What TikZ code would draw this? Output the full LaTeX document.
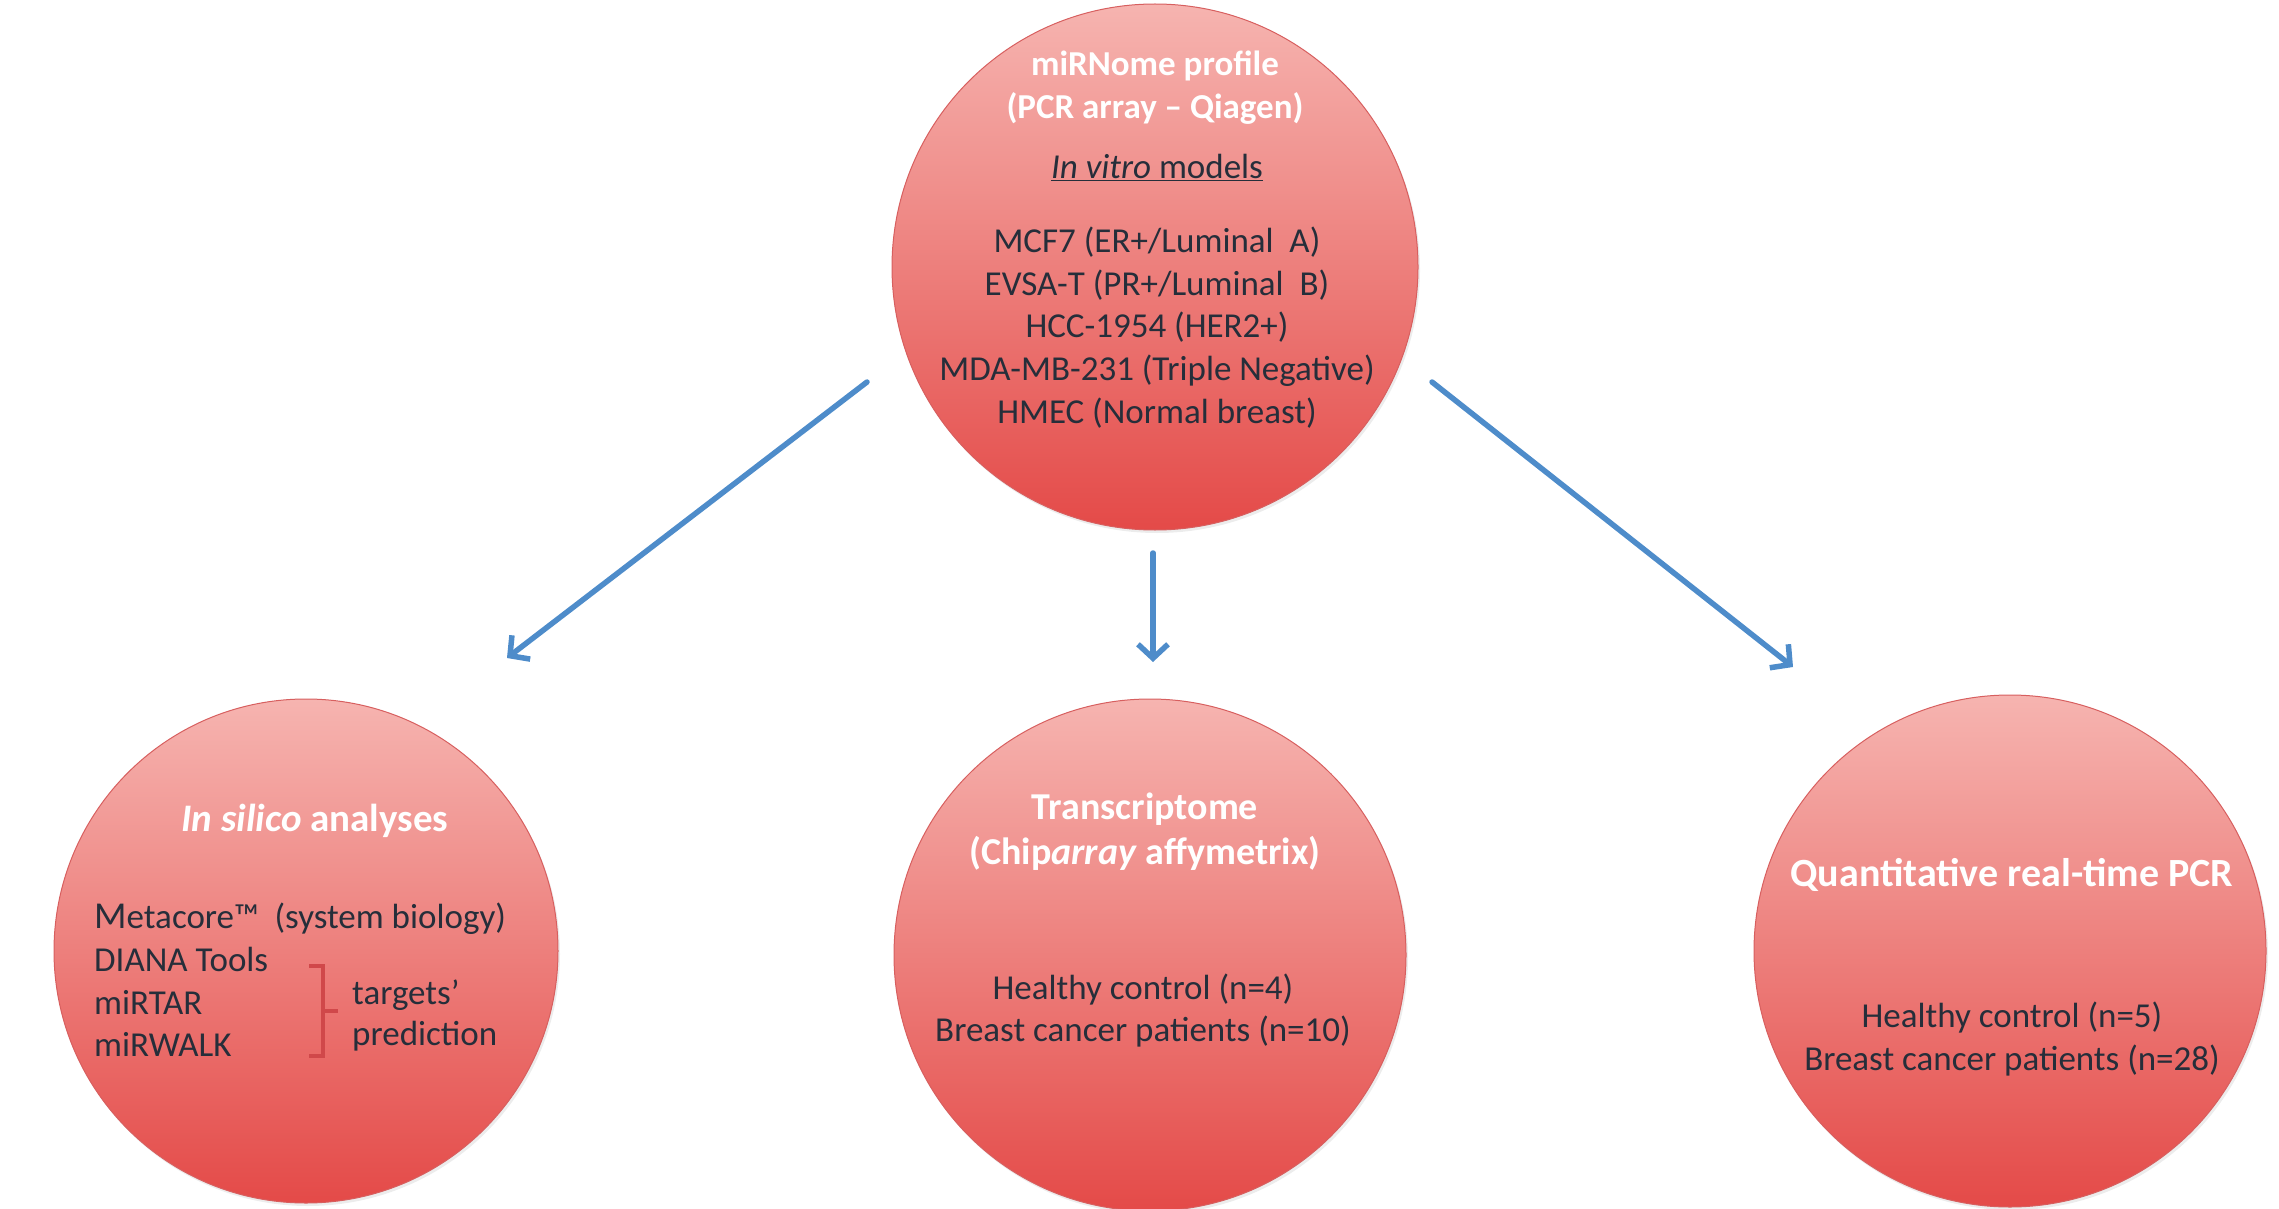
\documentclass[tikz,border=0pt]{standalone}
\usepackage{fontspec}
\setmainfont{Carlito}
\usetikzlibrary{arrows.meta,shadows}
\definecolor{cTop}{RGB}{246,180,176}
\definecolor{cBot}{RGB}{228,74,72}
\definecolor{cEdge}{RGB}{215,95,95}
\definecolor{txtDark}{RGB}{38,46,58}
\definecolor{arrBlue}{RGB}{78,140,202}
\definecolor{braceRed}{RGB}{208,72,74}
\tikzset{
  bubble/.style={circle, inner sep=0pt, top color=cTop, bottom color=cBot,
    draw=cEdge, line width=1pt,
    drop shadow={opacity=0.15, shadow xshift=2pt, shadow yshift=-3pt}},
  ttl/.style={text=white, font=\fontsize{35}{40}\selectfont\bfseries, inner sep=0pt,
    text height=25pt, text depth=8pt},
  bigttl/.style={ttl, font=\fontsize{39}{44}\selectfont\bfseries},
  body/.style={text=txtDark, font=\fontsize{35}{40}\selectfont, inner sep=0pt,
    text height=25pt, text depth=8pt},
  flow/.style={draw=arrBlue, line width=5.5pt, line cap=round,
    -{Straight Barb[length=14pt,width=30pt,line width=5.5pt]}},
  bracket/.style={draw=braceRed, line width=3.5pt}
}
\begin{document}
\begin{tikzpicture}[x=1pt,y=-1pt]
\useasboundingbox (0,0) rectangle (2279,1209);
% circles
\node[bubble, minimum size=526pt] (top) at (1155,267) {};
\node[bubble, minimum size=504pt] (left) at (306,951) {};
\node[bubble, minimum size=512pt] (mid) at (1150,955) {};
\node[bubble, minimum size=512pt] (right) at (2010,951) {};

% top circle text
\node[ttl] (t1) at (1155,67) {miRNome profile};
\node[ttl] (t2) at (1155,110) {(PCR array – Qiagen)};
\node[body] (t3) at (1157,170) {\underline{\textit{In vitro} models}};
\node[body] (t4) at (1157,244) {MCF7 (ER+/Luminal\ \ A)};
\node[body] (t5) at (1157,287) {EVSA-T (PR+/Luminal\ \ B)};
\node[body] (t6) at (1157,329) {HCC-1954 (HER2+)};
\node[body] (t7) at (1157,372) {MDA-MB-231 (Triple Negative)};
\node[body] (t8) at (1157,415) {HMEC (Normal breast)};

% left circle text
\node[bigttl] (l1) at (315,823) {\textit{In silico} analyses};
\node[body, anchor=west] (l2) at (94,920) {{\fontsize{38}{40}\selectfont M}etacore™\ \ (system biology)};
\node[body, anchor=west] (l3) at (94,963) {DIANA Tools};
\node[body, anchor=west] (l4) at (94,1006) {miRTAR};
\node[body, anchor=west] (l5) at (94,1048) {miRWALK};
\node[body, anchor=west] (l6) at (352,996) {targets’};
\node[body, anchor=west] (l7) at (352,1037) {prediction};
\coordinate (bTop) at (309,966);
\coordinate (bMid) at (338,1011);
\coordinate (bBot) at (309,1056);
\draw[bracket] (bTop) -- (323,966) -- (323,1056) -- (bBot);
\draw[bracket] (323,1011) -- (bMid);

% middle circle text
\node[bigttl, font=\fontsize{38}{44}\selectfont\bfseries] (m1) at (1145,811) {Transcriptome};
\node[bigttl, font=\fontsize{38}{44}\selectfont\bfseries] (m2) at (1145,856) {(Chip\textit{array} affymetrix)};
\node[body] (m3) at (1143,991) {Healthy control (n=4)};
\node[body] (m4) at (1143,1033) {Breast cancer patients (n=10)};

% right circle text
\node[bigttl, font=\fontsize{40}{44}\selectfont\bfseries] (r1) at (2012,878) {Quantitative real-time PCR};
\node[body] (r2) at (2012,1019) {Healthy control (n=5)};
\node[body] (r3) at (2012,1062) {Breast cancer patients (n=28)};

% arrows
\coordinate (a1s) at (867,382);
\coordinate (a1e) at (507,658);
\coordinate (a2s) at (1153,553);
\coordinate (a2e) at (1153,662);
\coordinate (a3s) at (1432,382);
\coordinate (a3e) at (1793,667);
\draw[flow] (a1s) -- (a1e);
\draw[flow] (a2s) -- (a2e);
\draw[flow] (a3s) -- (a3e);
\end{tikzpicture}
\end{document}
